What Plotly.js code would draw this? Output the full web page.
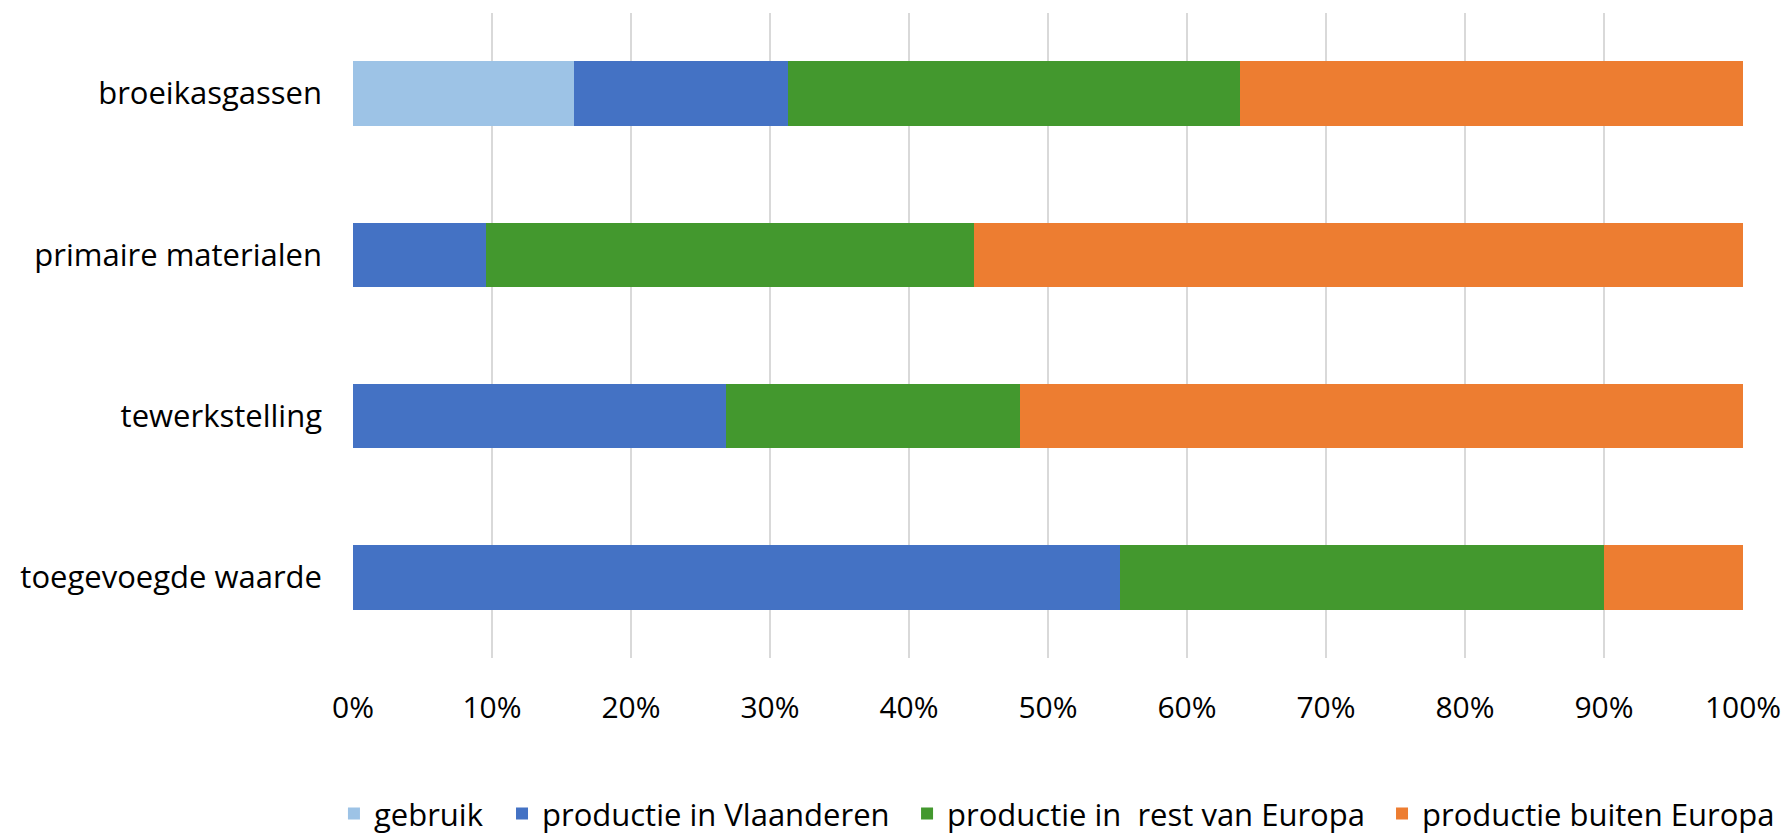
<!DOCTYPE html>
<html>
<head>
<meta charset="utf-8">
<script src="https://cdn.plot.ly/plotly-3.0.1.min.js"></script>
<style>
html,body{margin:0;padding:0;background:#fff;}
#chart{width:1789px;height:835px;}
</style>
</head>
<body>
<div id="chart"></div>
<script>
// categories, bottom to top as drawn
const categories = ["toegevoegde waarde", "tewerkstelling", "primaire materialen", "broeikasgassen"];
// values in percent
const gebruik = [0, 0, 0, 15.9];
const productieVlaanderen = [55.2, 26.8, 9.6, 15.4];
const productieRestEuropa = [34.8, 21.2, 35.1, 32.5];
const productieBuitenEuropa = [10.0, 52.0, 55.3, 36.2];
const seriesNames = ["gebruik", "productie in Vlaanderen", "productie in \u00a0rest van Europa", "productie buiten Europa"];
const colors = ["#9DC3E6", "#4472C4", "#43982E", "#ED7D31"];
const tickVals = [0, 10, 20, 30, 40, 50, 60, 70, 80, 90, 100];
const tickLabels = ["0%", "10%", "20%", "30%", "40%", "50%", "60%", "70%", "80%", "90%", "100%"];

// one legend per series so each entry sits where the reference puts it
const legendIds = ["legend", "legend2", "legend3", "legend4"];
const legendX = [-0.0137, 0.1072, 0.3986, 0.7403];

const seriesValues = [gebruik, productieVlaanderen, productieRestEuropa, productieBuitenEuropa];
const traces = seriesValues.map((vals, i) => ({
  type: "bar",
  orientation: "h",
  name: seriesNames[i],
  y: categories,
  x: vals,
  legend: legendIds[i],
  marker: {color: colors[i], line: {width: 0}},
  hoverinfo: "x+y+name"
}));

const fam = "Open Sans, sans-serif";

const layout = {
  width: 1789,
  height: 835,
  barmode: "stack",
  bargap: 0.6,
  paper_bgcolor: "#fff",
  plot_bgcolor: "#fff",
  margin: {l: 353, r: 46, t: 13, b: 177, autoexpand: false},
  font: {family: fam, size: 30, color: "#000"},
  xaxis: {
    range: [0, 100],
    tickvals: tickVals,
    ticktext: tickLabels,
    showgrid: true,
    gridcolor: "#D9D9D9",
    gridwidth: 2,
    zeroline: false,
    showline: false,
    ticks: "",
    ticklabelstandoff: 29,
    tickfont: {family: fam, size: 30, color: "#000"},
    fixedrange: true
  },
  yaxis: {
    showgrid: false,
    zeroline: false,
    showline: false,
    ticks: "",
    ticklabelstandoff: 30,
    tickfont: {family: fam, size: 31, color: "#000"},
    fixedrange: true
  },
  showlegend: true
};

legendIds.forEach((id, i) => {
  layout[id] = {
    orientation: "h",
    x: legendX[i],
    xanchor: "left",
    y: -0.2415,
    yanchor: "middle",
    bgcolor: "rgba(0,0,0,0)",
    font: {family: fam, size: 31, color: "#000"},
    itemwidth: 30
  };
});

Plotly.newPlot("chart", traces, layout, {displayModeBar: false});
</script>
</body>
</html>
